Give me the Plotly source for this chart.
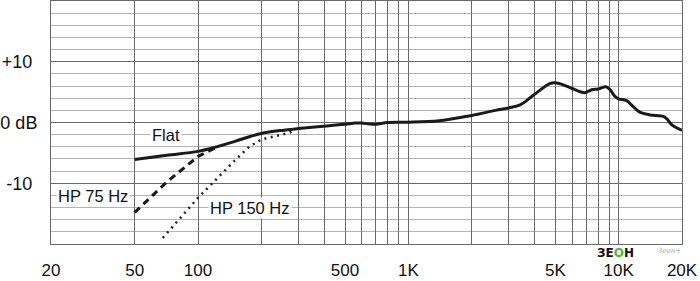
import plotly.graph_objects as go

# Flat response
flat_f = [50, 71, 100, 120, 150, 177, 200, 250, 300, 370, 430, 500, 560, 600, 680, 800,
          1000, 1400, 2000, 2600, 3000, 3400, 3900, 4700, 5000, 5450, 6000, 6900, 7450,
          8000, 8700, 9100, 9600, 10000, 10900, 11500, 12600, 14100, 16300, 17000, 17900, 20000]
flat_db = [-6.1, -5.4, -4.75, -4.1, -3.1, -2.3, -1.8, -1.3, -1.0, -0.7, -0.5, -0.3, -0.1, -0.1,
           -0.3, 0.0, 0.05, 0.3, 1.15, 2.0, 2.4, 2.9, 4.4, 6.4, 6.55, 6.2, 5.6, 4.9, 5.4,
           5.5, 5.9, 5.4, 4.3, 3.9, 3.6, 2.9, 1.7, 1.25, 1.0, 0.55, -0.4, -1.3]

# HP 75 Hz (dashed)
hp75_f = [50, 71, 100, 120]
hp75_db = [-14.8, -9.8, -5.6, -4.2]

# HP 150 Hz (dotted)
hp150_f = [68, 100, 148, 175, 200, 237, 265, 290]
hp150_db = [-19.0, -12.4, -6.4, -4.0, -2.8, -2.2, -1.8, -1.3]

# Axis ticks / grid
x_grid = [20, 50, 100, 200, 300, 400, 500, 600, 700, 800, 900, 1000,
          2000, 3000, 4000, 5000, 6000, 7000, 8000, 9000, 10000, 20000]
x_labels = {20: "20", 50: "50", 100: "100", 500: "500", 1000: "1K",
            5000: "5K", 10000: "10K", 20000: "20K"}
y_ticks = [-20, -10, 0, 10, 20]
y_labels = ["", "-10\u00a0", "0 dB", "+10\u00a0", ""]

FONT = "Liberation Sans, Arial, sans-serif"

fig = go.Figure()
fig.add_trace(go.Scatter(x=hp150_f, y=hp150_db, mode="lines",
                         line=dict(color="#222", width=2.5, dash="2px,4.5px"),
                         hoverinfo="skip"))
fig.add_trace(go.Scatter(x=hp75_f, y=hp75_db, mode="lines",
                         line=dict(color="#1a1a1a", width=3, dash="7px,5px"),
                         hoverinfo="skip"))
fig.add_trace(go.Scatter(x=flat_f, y=flat_db, mode="lines", line_shape="spline",
                         line=dict(color="#1a1a1a", width=3), hoverinfo="skip"))

fig.update_layout(
    width=700, height=281,
    margin=dict(l=51, r=18, t=1, b=37),
    paper_bgcolor="white", plot_bgcolor="white",
    showlegend=False,
    font=dict(family=FONT, color="#111"),
)
fig.update_xaxes(
    type="log", range=[1.30103, 4.30103],
    tickmode="array", tickvals=x_grid,
    ticktext=[x_labels.get(v, "") for v in x_grid],
    showgrid=True, gridcolor="#6a6a6a", gridwidth=1,
    showline=True, linecolor="#6a6a6a", linewidth=1, mirror=True,
    ticks="", ticklabelstandoff=11, tickfont=dict(size=17, family=FONT, color="#111"),
    zeroline=False, fixedrange=True, automargin=False,
)
fig.update_yaxes(
    range=[-20, 20],
    tickmode="array", tickvals=y_ticks, ticktext=y_labels,
    showgrid=True, gridcolor="#6a6a6a", gridwidth=1,
    minor=dict(tickmode="linear", tick0=0, dtick=2, showgrid=True,
               gridcolor="#b4b4b4", gridwidth=1, ticks=""),
    showline=True, linecolor="#6a6a6a", linewidth=1, mirror=True,
    ticks="", ticklabelstandoff=9, tickfont=dict(size=18, family=FONT, color="#111"),
    zeroline=False, fixedrange=True, automargin=False,
)

ann_font = dict(size=16.5, family=FONT, color="#111")
fig.add_annotation(x=1.846, y=-2.0, xref="x", yref="y", text="Flat",
                   showarrow=False, font=ann_font, bgcolor="white")
fig.add_annotation(x=1.50, y=-12.1, xref="x", yref="y", text="HP 75 Hz",
                   showarrow=False, font=ann_font, bgcolor="white")
fig.add_annotation(x=2.249, y=-14.0, xref="x", yref="y", text="HP 150 Hz",
                   showarrow=False, font=ann_font, bgcolor="white")

# watermark logo (between plot bottom and tick labels)
fig.add_annotation(
    x=0.895, y=-0.003, xref="paper", yref="paper", xanchor="center", yanchor="top",
    text="<b>ЗЕ<span style='color:#4cbb3c'>O</span>Н</b>", showarrow=False,
    font=dict(size=12, family="DejaVu Sans, sans-serif", color="#111"),
    borderpad=0,
)
fig.add_annotation(
    x=1.0, y=-0.01, xref="paper", yref="paper", xanchor="right", yanchor="top",
    text="<i>Зеон+</i>", showarrow=False,
    font=dict(size=7, family="DejaVu Serif, serif", color="#aaa"), borderpad=0,
)

fig.write_html("out.html")
